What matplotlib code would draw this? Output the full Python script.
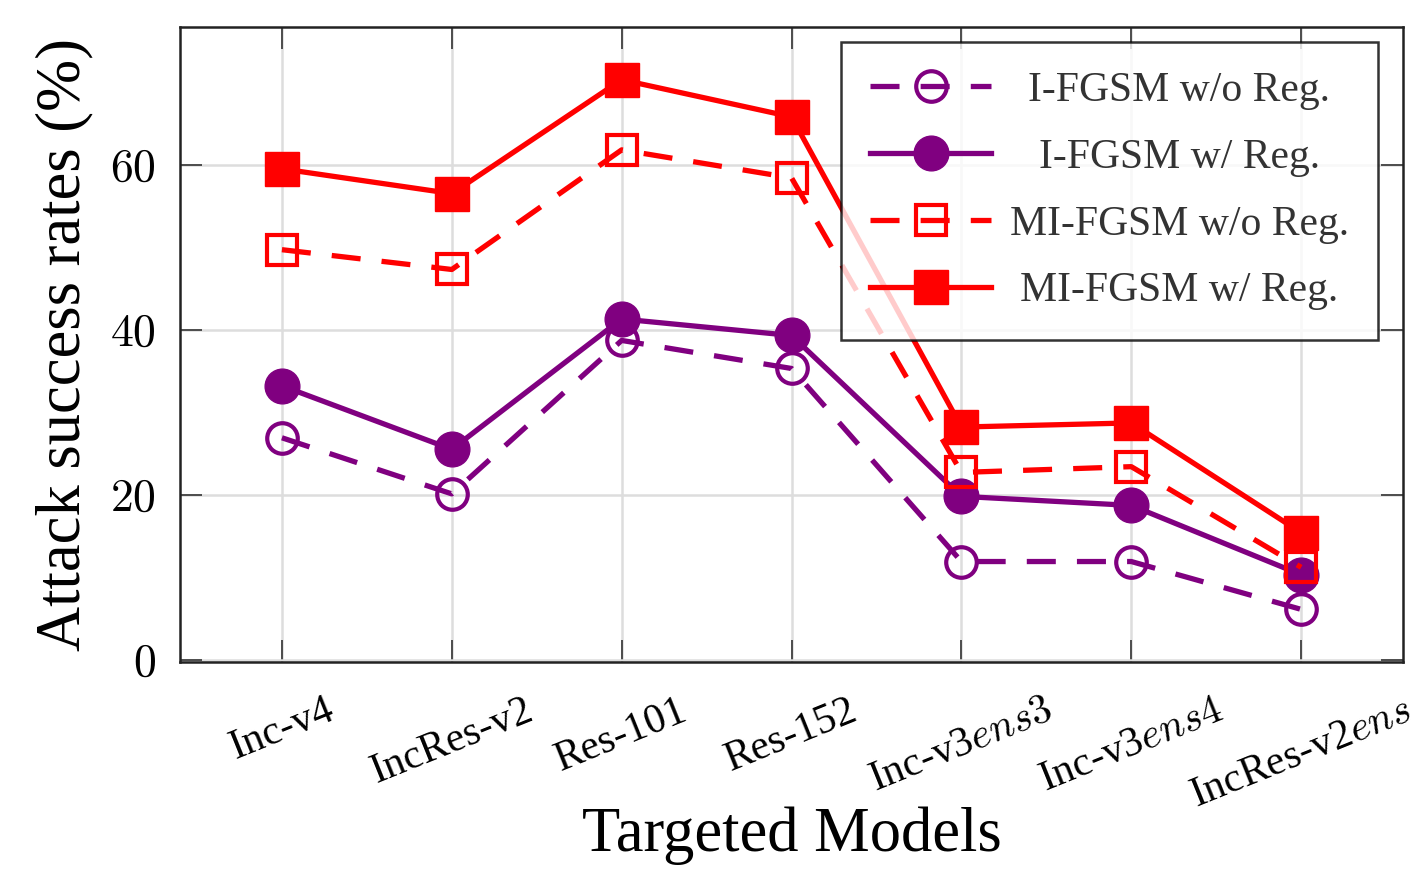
import numpy as np
import matplotlib
matplotlib.use("Agg")
import matplotlib.pyplot as plt

plt.rcParams['font.family'] = ['Liberation Serif', 'DejaVu Serif']
plt.rcParams['mathtext.fontset'] = 'cm'

models = ['Inc-v4', 'IncRes-v2', 'Res-101', 'Res-152',
          r'Inc-v3$ens3$', r'Inc-v3$ens4$', r'IncRes-v2$ens$']
yticks = [0, 20, 40, 60]
ytick_labels = [r'$0$', r'$20$', r'$40$', r'$60$']

i_fgsm_noreg = [26.9, 20.1, 38.7, 35.3, 11.9, 11.9, 6.1]
i_fgsm_reg = [33.2, 25.5, 41.3, 39.3, 19.8, 18.7, 10.3]
mi_fgsm_noreg = [49.7, 47.3, 61.8, 58.4, 22.7, 23.4, 11.2]
mi_fgsm_reg = [59.5, 56.5, 70.3, 65.8, 28.2, 28.7, 15.4]

purple = '#800080'
red = '#ff0000'

fig = plt.figure(figsize=(14.23, 8.69), dpi=100)
ax = fig.add_axes([0.1265, 0.238, 0.8595, 0.731])

x = np.arange(len(models))
dash = (0, (5.5, 4))
lw = 3.8
ax.plot(x, i_fgsm_noreg, color=purple, lw=lw, linestyle=dash, marker='o',
        ms=22, mfc='none', mew=3, label='I-FGSM w/o Reg.')
ax.plot(x, i_fgsm_reg, color=purple, lw=lw, marker='o', ms=25,
        label='I-FGSM w/ Reg.')
ax.plot(x, mi_fgsm_noreg, color=red, lw=lw, linestyle=dash, marker='s',
        ms=22, mfc='none', mew=3, label='MI-FGSM w/o Reg.')
ax.plot(x, mi_fgsm_reg, color=red, lw=lw, marker='s', ms=25,
        label='MI-FGSM w/ Reg.')

ax.set_xlim(-0.6, 6.6)
ax.set_ylim(-0.3, 76.7)
ax.set_yticks(yticks)
ax.set_yticklabels(ytick_labels, fontsize=33)
ax.set_xticks(x)
ax.set_xticklabels(models, rotation=22, fontsize=30)
ax.tick_params(direction='in', length=16, width=1.2, top=True, right=True,
               color='#333333')
ax.tick_params(axis='y', pad=17)
ax.tick_params(axis='x', pad=21)
ax.grid(True, color='#dddddd', lw=1.8)
ax.set_axisbelow(True)
for s in ax.spines.values():
    s.set_linewidth(1.8)
    s.set_color('#222222')

ax.set_xlabel('Targeted Models', fontsize=45, labelpad=-6)
ax.set_ylabel('Attack success rates (%)', fontsize=45, labelpad=12)

leg = ax.legend(loc='upper right', bbox_to_anchor=(0.9796, 0.976),
                borderaxespad=0, fontsize=30, handlelength=2.9,
                handletextpad=0.45, labelspacing=0.68, fancybox=False,
                edgecolor='black', framealpha=0.8, borderpad=0.7)
leg.get_frame().set_linewidth(1.8)
for t in leg.get_texts():
    t.set_color('#333333')

# center the legend labels in their column
fig.canvas.draw()
r = fig.canvas.get_renderer()
ws = [t.get_window_extent(r).width for t in leg.get_texts()]
for t, w in zip(leg.get_texts(), ws):
    t.set_position(((max(ws) - w) / 2, 0))

fig.savefig('out.png', dpi=100)
